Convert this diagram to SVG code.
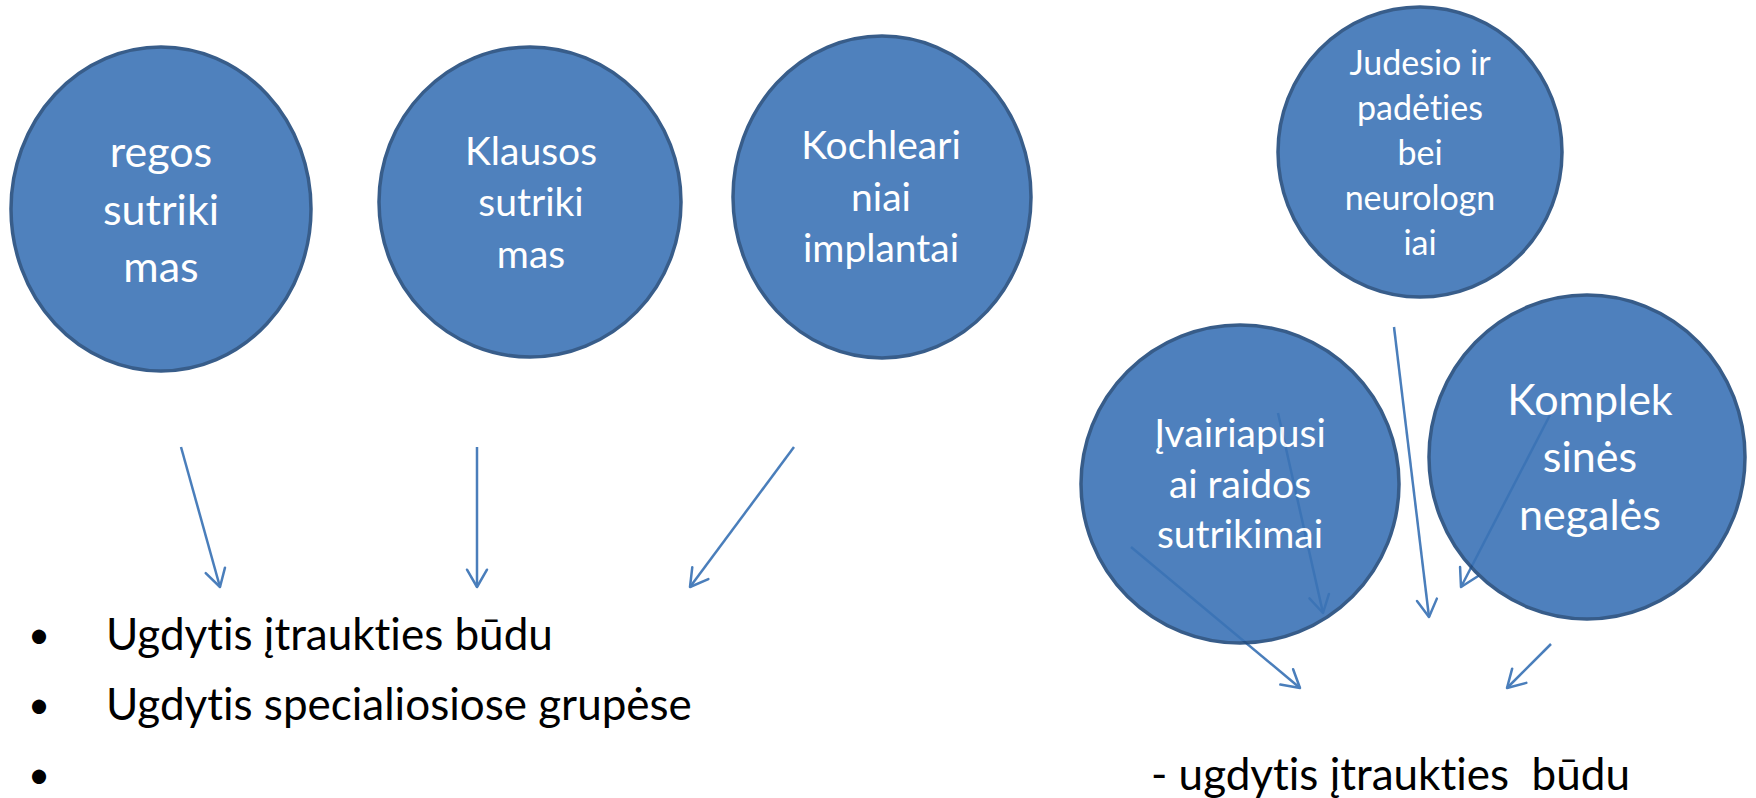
<svg xmlns="http://www.w3.org/2000/svg" width="1756" height="798" viewBox="0 0 1756 798">
<style>
  .bg { fill: #ffffff; }
  text { font-variant-ligatures: none; font-feature-settings: "liga" 0, "clig" 0; }
  .circ { fill: #4F81BD; stroke: #385D8A; stroke-width: 3.5; }
  .circ-t { fill: #3B73B6; stroke: #224B7D; stroke-width: 3.5; }
  .see { opacity: 0.9; }
  .lbl { font-family: Lato, "Open Sans", sans-serif; fill: #ffffff; text-anchor: middle; }
  .s43 { font-size: 43px; }
  .s39 { font-size: 39px; }
  .s34 { font-size: 34px; }
  .conn line { stroke: #4A7EBB; stroke-width: 2.5; fill: none; marker-end: url(#arr); }
  .body { font-family: Lato, "Open Sans", sans-serif; font-size: 44px; fill: #000000; white-space: pre; }
  .bul { font-family: Lato, "Open Sans", sans-serif; font-size: 38px; fill: #000000; text-anchor: middle; }
</style>
<defs>
  <marker id="arr" markerUnits="userSpaceOnUse" viewBox="0 0 22 20" markerWidth="22" markerHeight="20" refX="19.3" refY="10" orient="auto" overflow="visible">
    <path d="M2,0 L19.3,10 L2,20" fill="none" stroke="#4A7EBB" stroke-width="2.5" stroke-linecap="round" stroke-linejoin="round"/>
  </marker>
</defs>
<rect class="bg" x="0" y="0" width="1756" height="798"/>

<g id="connectors" class="conn">
  <line x1="181" y1="447" x2="220" y2="587"/>
  <line x1="477" y1="447" x2="477" y2="587"/>
  <line x1="794" y1="447" x2="690" y2="587"/>
  <line x1="1394" y1="327" x2="1429" y2="617"/>
  <line x1="1278" y1="413" x2="1323" y2="613"/>
  <line x1="1550" y1="415" x2="1461" y2="587"/>
  <line x1="1131" y1="547" x2="1300" y2="688"/>
  <line x1="1551" y1="644" x2="1507" y2="688"/>
</g>

<g id="node-regos">
  <ellipse class="circ" cx="161" cy="209" rx="150" ry="162"/>
  <text class="lbl s43" x="161" y="167">regos</text>
  <text class="lbl s43" x="161" y="225">sutriki</text>
  <text class="lbl s43" x="161" y="282">mas</text>
</g>

<g id="node-klausos">
  <ellipse class="circ" cx="530" cy="202" rx="151" ry="155"/>
  <text class="lbl s39" x="531" y="165">Klausos</text>
  <text class="lbl s39" x="531" y="216">sutriki</text>
  <text class="lbl s39" x="531" y="268">mas</text>
</g>

<g id="node-kochleari">
  <ellipse class="circ" cx="882" cy="197" rx="149" ry="161"/>
  <text class="lbl s39" x="881" y="159">Kochleari</text>
  <text class="lbl s39" x="881" y="211">niai</text>
  <text class="lbl s39" x="881" y="262">implantai</text>
</g>

<g id="node-judesio">
  <ellipse class="circ" cx="1420" cy="152" rx="142" ry="145"/>
  <text class="lbl s34" x="1420" y="75">Judesio ir</text>
  <text class="lbl s34" x="1420" y="120">padėties</text>
  <text class="lbl s34" x="1420" y="165">bei</text>
  <text class="lbl s34" x="1420" y="210">neurologn</text>
  <text class="lbl s34" x="1420" y="255">iai</text>
</g>

<g id="node-ivairiapusiai" class="see">
  <ellipse class="circ-t" cx="1240" cy="484" rx="159" ry="159"/>
  <text class="lbl s39" x="1240" y="447">Įvairiapusi</text>
  <text class="lbl s39" x="1240" y="498">ai raidos</text>
  <text class="lbl s39" x="1240" y="548">sutrikimai</text>
</g>

<g id="node-kompleksines" class="see">
  <ellipse class="circ-t" cx="1587" cy="457" rx="158" ry="162"/>
  <text class="lbl s43" x="1590" y="415">Komplek</text>
  <text class="lbl s43" x="1590" y="472">sinės</text>
  <text class="lbl s43" x="1590" y="530">negalės</text>
</g>

<g id="list-left">
  <text class="bul" x="39" y="648">•</text>
  <text class="body" x="106" y="650">Ugdytis įtraukties būdu</text>
  <text class="bul" x="39" y="718">•</text>
  <text class="body" x="106" y="720">Ugdytis specialiosiose grupėse</text>
  <text class="bul" x="39" y="788">•</text>
</g>

<g id="text-right">
  <text class="body" x="1151" y="790" xml:space="preserve">- ugdytis įtraukties  būdu</text>
</g>
</svg>
